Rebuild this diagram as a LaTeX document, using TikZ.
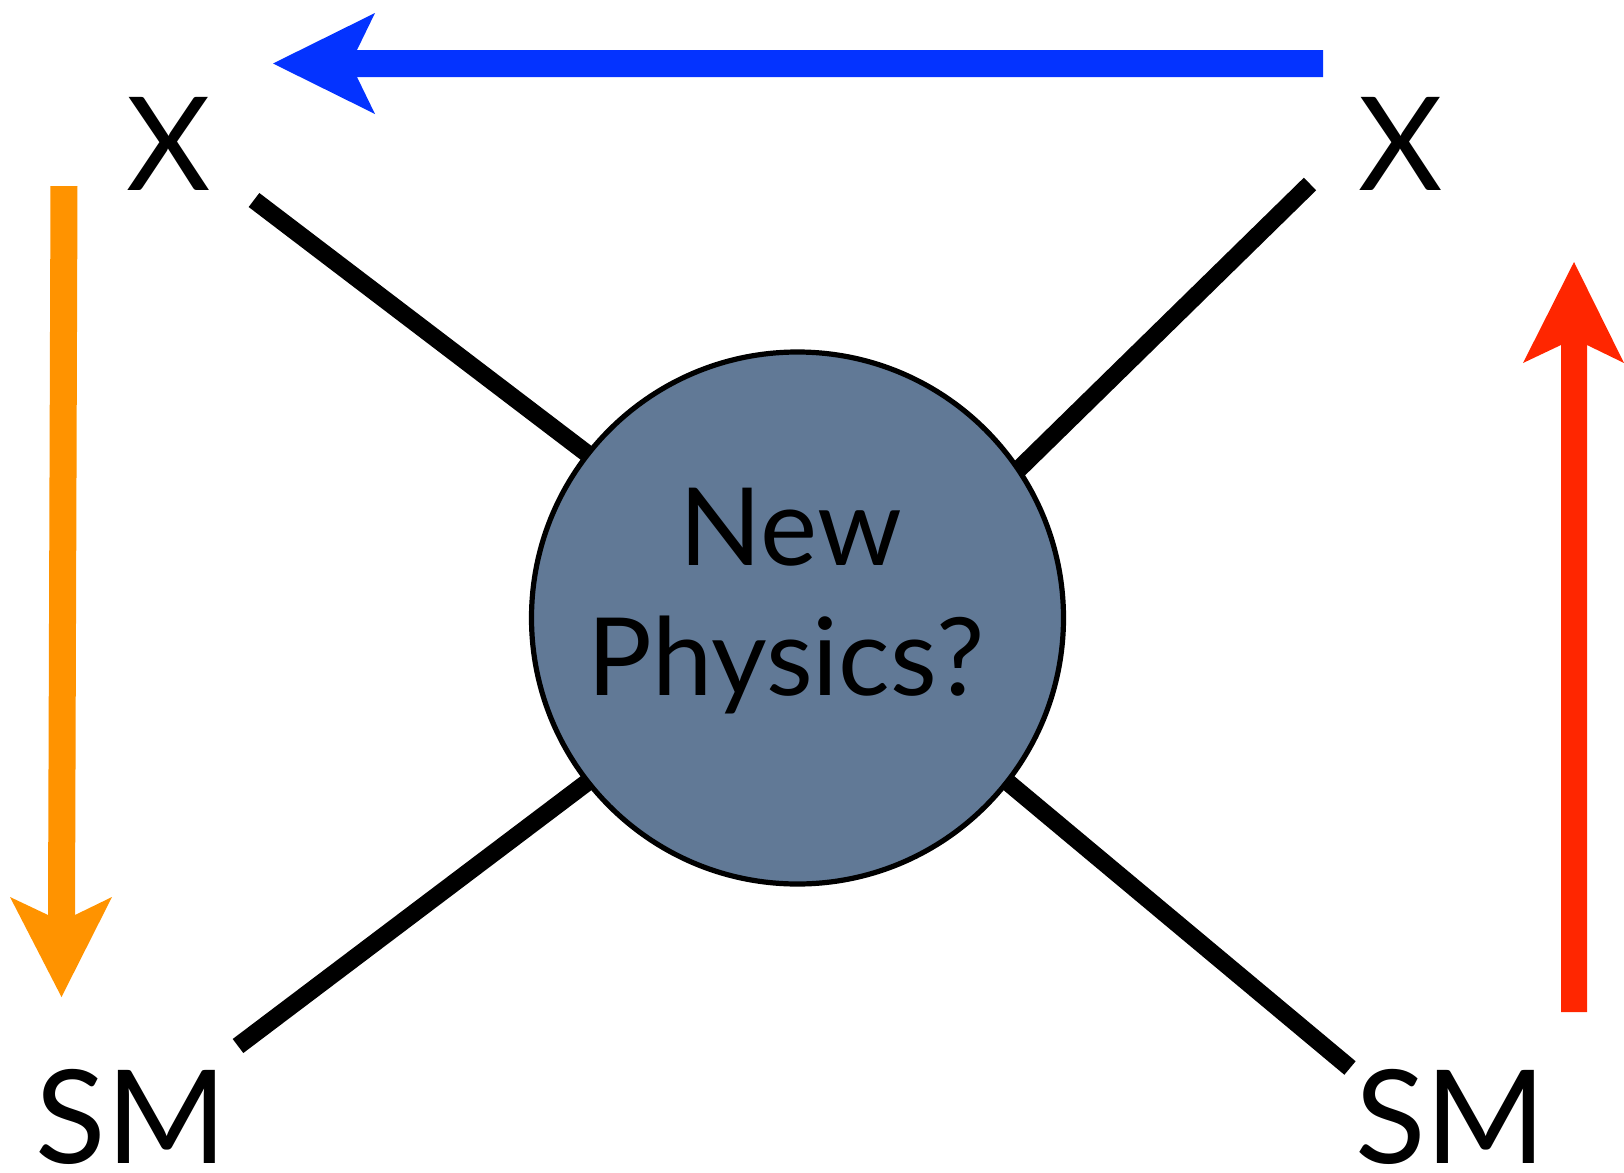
\documentclass[tikz,border=0pt]{standalone}
\usepackage{fontspec}
\setmainfont{Lato}
\usetikzlibrary{backgrounds}
\definecolor{npfill}{RGB}{97,121,150}
\definecolor{arrblue}{RGB}{4,51,255}
\definecolor{arrorange}{RGB}{255,147,0}
\definecolor{arrred}{RGB}{255,38,0}
\begin{document}
\begin{tikzpicture}[x=0.5pt,y=-0.5pt,
  lbl/.style={font=\fontsize{65}{66}\selectfont, inner sep=0pt, anchor=base},
  nptext/.style={font=\fontsize{54}{65}\selectfont, inner sep=0pt, anchor=base},
  leg/.style={line width=8.8pt, black, shorten >=-12pt},
  blob/.style={circle, draw=black, line width=2.6pt, fill=npfill, minimum size=266pt, inner sep=0pt}]
\useasboundingbox (0,0) rectangle (1624,1173);
% central blob
\node[blob] (np) at (797.5,618) {};
\node[nptext] (npa) at (791,565) {New};
\node[nptext] (npb) at (786,695) {Physics?};
% labels
\node[lbl] (xl) at (168.5,190) {X};
\node[lbl] (xr) at (1401,190) {X};
\node[lbl] (sml) at (131.5,1163) {SM};
\node[lbl] (smr) at (1451,1163) {SM};
% leg ends
\coordinate (l1) at (254,200);
\coordinate (l2) at (1310,184);
\coordinate (l3) at (238,1046);
\coordinate (l4) at (1350,1068);
\begin{pgfonlayer}{background}
\draw[leg] (l1) -- (np.142.6);
\draw[leg] (l2) -- (np.34);
\draw[leg] (l3) -- (np.218.7);
\draw[leg] (l4) -- (np.-38.3);
\end{pgfonlayer}
% blue arrow (right to left)
\fill[arrblue] (1323,50) -- (357,50) -- (375,13) -- (273,63.5) -- (375,114) -- (357,77) -- (1323,77) -- cycle;
% orange arrow (down)
\fill[arrorange] (50.5,186) -- (77.5,186) -- (75,915) -- (112,897) -- (61.5,997) -- (10,897) -- (48,915) -- cycle;
% red arrow (up)
\fill[arrred] (1561,1012) -- (1561,345) -- (1523,363) -- (1574,262) -- (1624,363) -- (1587,345) -- (1587,1012) -- cycle;
\end{tikzpicture}
\end{document}
